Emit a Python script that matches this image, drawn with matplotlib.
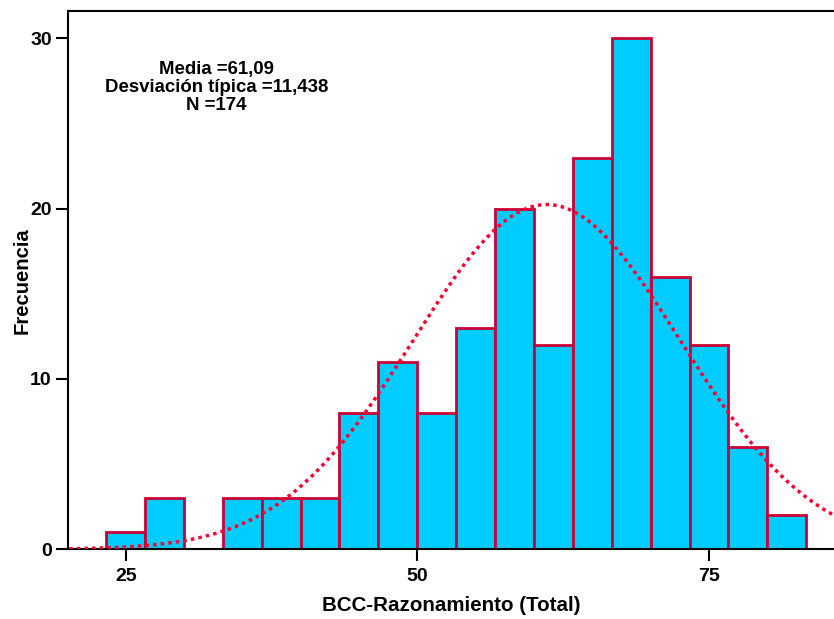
import numpy as np
from matplotlib import pyplot as plt

# histogram
counts = [1, 3, 0, 3, 3, 3, 8, 11, 8, 13, 20, 12, 23, 30, 16, 12, 6, 2]
first_edge = 23.31
bin_width = 3.335

media = 61.09
desv = 11.438
n = 174

x_ticks = [25, 50, 75]
y_ticks = [0, 10, 20, 30]

plt.rcParams['font.family'] = ['Liberation Sans', 'DejaVu Sans']
plt.rcParams['font.weight'] = 'bold'

fig = plt.figure(figsize=(8.34, 6.19), dpi=100)
ax = fig.add_axes([0.0812, 0.1126, 0.9200, 0.8696])

lefts = first_edge + bin_width * np.arange(len(counts))
ax.bar(lefts, counts, width=bin_width, align='edge', color='#00CCFF',
       edgecolor='#CC0033', linewidth=2.0, zorder=2)

# normal curve scaled to counts
xs = np.linspace(19.5, 87, 400)
ys = n * bin_width * np.exp(-0.5 * ((xs - media) / desv) ** 2) / (desv * np.sqrt(2 * np.pi))
ax.plot(xs, ys, color='#FF0033', linestyle=(0, (1, 1.2)), linewidth=2.5, zorder=3)

ax.set_xlim(20.03, 85.8)
ax.set_ylim(0, 31.6)
ax.set_xticks(x_ticks)
ax.set_yticks(y_ticks)
ax.tick_params(axis='both', direction='out', length=8.5, width=1.5, labelsize=14)
ax.tick_params(axis='x', pad=5)
ax.tick_params(axis='y', pad=3)
for s in ['left', 'bottom', 'top']:
    ax.spines[s].set_linewidth(1.5)
ax.spines['right'].set_visible(False)

ax.set_xlabel('BCC-Razonamiento (Total)', fontsize=14.8, fontweight='bold', labelpad=8)
ax.set_ylabel('Frecuencia', fontsize=14.6, fontweight='bold', labelpad=-1)

ax.text(32.8, 27.1, 'Media =61,09\nDesviación típica =11,438\nN =174',
        ha='center', va='center', fontsize=13.4, fontweight='bold',
        linespacing=1.08)

fig.savefig('out.png', dpi=100)
